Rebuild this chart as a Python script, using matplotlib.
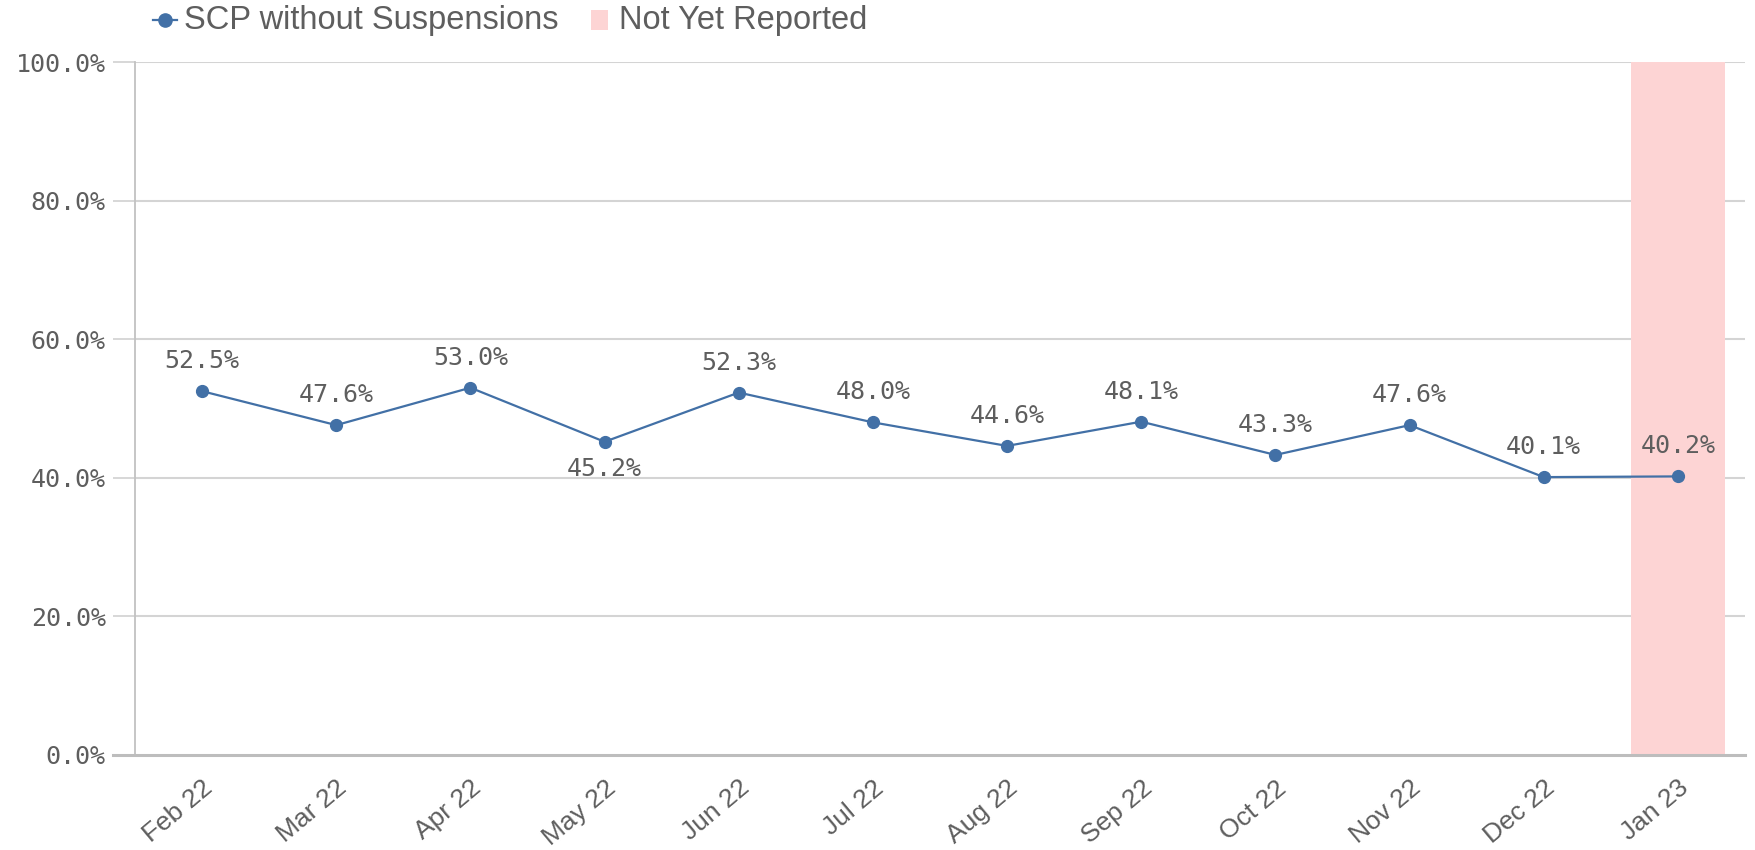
import matplotlib
matplotlib.use("Agg")
import matplotlib.pyplot as plt
from matplotlib.lines import Line2D
from matplotlib.patches import Rectangle

# data
months = ["Feb 22", "Mar 22", "Apr 22", "May 22", "Jun 22", "Jul 22",
          "Aug 22", "Sep 22", "Oct 22", "Nov 22", "Dec 22", "Jan 23"]
scp_no_susp = [52.5, 47.6, 53.0, 45.2, 52.3, 48.0, 44.6, 48.1, 43.3, 47.6, 40.1, 40.2]
label_below = ["May 22"]
not_reported = ["Jan 23"]
y_ticks = [0, 20, 40, 60, 80, 100]
legend_labels = ["SCP without Suspensions", "Not Yet Reported"]

line_col = "#4270a6"
pink = "#fdd4d4"
grid_col = "#d4d4d4"
txt_col = "#5e5e5e"
sans = ["Liberation Sans", "DejaVu Sans"]
mono = ["DejaVu Sans Mono"]

W, H = 1756, 850
fig = plt.figure(figsize=(W / 100, H / 100), dpi=100)
ax = fig.add_axes([135/W, 1-755/H, 1610/W, 693/H])

x = list(range(len(months)))
ax.set_xlim(-0.5, len(months) - 0.5)
ax.set_ylim(0, 100)

# gridlines
for t in y_ticks[1:]:
    ax.axhline(t, color=grid_col, lw=1.5, zorder=1)

# not yet reported band
for m in not_reported:
    i = months.index(m)
    ax.axvspan(i - 0.35, i + 0.35, color=pink, lw=0, zorder=2)

ax.plot(x, scp_no_susp, color=line_col, lw=1.6, marker="o", ms=8.5, zorder=4)

for xi, m, v in zip(x, months, scp_no_susp):
    dy = -27 if m in label_below else 30
    ax.annotate(f"{v:.1f}%", (xi, v), xytext=(0, dy * 0.72), textcoords="offset points",
                ha="center", va="center", fontsize=18, family=mono, color=txt_col, zorder=5)

for s in ["top", "right", "bottom"]:
    ax.spines[s].set_visible(False)
ax.spines["left"].set_color("#c2c2c2")
ax.spines["left"].set_linewidth(1.3)
ax.axhline(0, xmin=-22/1610, xmax=1, color="#bdbdbd", lw=2.2, clip_on=False, zorder=3)

ax.set_yticks(y_ticks)
ax.set_yticklabels([f"{t:.1f}%" for t in y_ticks], family=mono, fontsize=18, color=txt_col)
ax.tick_params(axis="y", length=16, width=1.3, color=grid_col, pad=5)

ax.set_xticks(x)
ax.set_xticklabels(months, rotation=40, ha="right", va="top", rotation_mode="anchor",
                   family=sans, fontsize=19, color=txt_col)
ax.tick_params(axis="x", length=0, pad=15)

# legend drawn by hand, in pixel positions of the figure
ly = 1 - 20/H
fig.add_artist(Line2D([153/W, 177/W], [ly, ly], color=line_col, lw=1.6))
fig.add_artist(Line2D([165/W], [ly], color=line_col, marker="o", ms=9.5, lw=0))
fig.text(184/W, ly, legend_labels[0], ha="left", va="center", family=sans,
         fontsize=23.5, color=txt_col)
fig.add_artist(Rectangle((591/W, 1-30/H), 17/W, 20/H, facecolor=pink, edgecolor="none",
                         transform=fig.transFigure))
fig.text(619/W, ly, legend_labels[1], ha="left", va="center", family=sans,
         fontsize=23.5, color=txt_col)

fig.savefig("out.png", dpi=100)
